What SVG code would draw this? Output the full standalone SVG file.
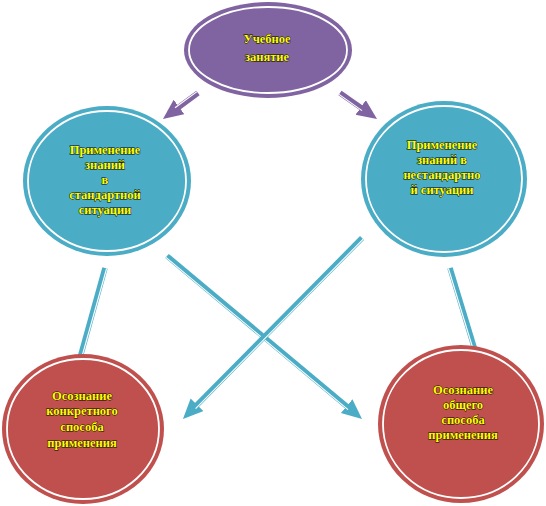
<svg xmlns="http://www.w3.org/2000/svg" width="546" height="506" viewBox="0 0 546 506">
<style>
.t{font-family:"Liberation Serif","Times New Roman",serif;font-weight:bold;font-size:12.5px;fill:#ffff00;stroke:#000;stroke-width:0.8px;paint-order:stroke;text-anchor:middle}
.ring{fill:none;stroke:#fff;stroke-width:1.8}
.pl{stroke:#8064a2;stroke-width:5.5;fill:none}
.bl{stroke:#4bacc6;stroke-width:5.5;fill:none}
.wl{stroke:#fff;stroke-width:1.1;fill:none}
</style>
<defs>
<marker id="hp" markerUnits="userSpaceOnUse" markerWidth="22" markerHeight="20" refX="8" refY="9" orient="auto"><path d="M0,0 L20,9 L0,18 Z" fill="#8064a2"/></marker>
<marker id="hb" markerUnits="userSpaceOnUse" markerWidth="22" markerHeight="20" refX="8" refY="9" orient="auto"><path d="M0,0 L20,9 L0,18 Z" fill="#4bacc6"/></marker>
</defs>
<g id="connectors">
<line class="pl" x1="198" y1="93" x2="172.6" y2="111.8" marker-end="url(#hp)"/>
<line class="wl" x1="197" y1="91.6" x2="175" y2="107.8"/>
<line class="pl" x1="340" y1="93" x2="367.2" y2="112.1" marker-end="url(#hp)"/>
<line class="wl" x1="339" y1="94.4" x2="362" y2="110.6"/>
<line class="bl" x1="167" y1="256" x2="352.8" y2="411.3" marker-end="url(#hb)"/>
<line class="wl" x1="165.9" y1="257.3" x2="348" y2="409.6"/>
<line class="bl" x1="362" y1="238" x2="191.4" y2="410.5" marker-end="url(#hb)"/>
<line class="wl" x1="363.2" y1="239.2" x2="195.6" y2="408.6"/>
<line class="bl" x1="105" y1="268" x2="78" y2="365"/>
<line class="wl" x1="106.6" y1="268.5" x2="79.6" y2="365"/>
<line class="bl" x1="450" y1="268" x2="478" y2="360"/>
<line class="wl" x1="448.4" y1="268.5" x2="476.4" y2="360"/>
</g>
<g id="n1">
<ellipse cx="268" cy="50" rx="84" ry="48" fill="#8064a2"/>
<ellipse class="ring" cx="268" cy="50" rx="79" ry="43"/>
<text class="t" x="267" y="43">Учебное</text>
<text class="t" x="267" y="61">занятие</text>
</g>
<g id="n2">
<ellipse cx="107" cy="181" rx="84" ry="75" fill="#4bacc6"/>
<ellipse class="ring" cx="107" cy="181" rx="79" ry="70"/>
<text class="t" x="105" y="154">Применение</text>
<text class="t" x="105" y="169">знаний</text>
<text class="t" x="105" y="184">в</text>
<text class="t" x="105" y="199">стандартной</text>
<text class="t" x="105" y="214">ситуации</text>
</g>
<g id="n3">
<ellipse cx="444" cy="179" rx="83" ry="78" fill="#4bacc6"/>
<ellipse class="ring" cx="444" cy="179" rx="78" ry="73"/>
<text class="t" x="442" y="149">Применение</text>
<text class="t" x="442" y="164">знаний  в</text>
<text class="t" x="442" y="179">нестандартно</text>
<text class="t" x="442" y="194">й  ситуации</text>
</g>
<g id="n4">
<ellipse cx="83" cy="429" rx="81" ry="75" fill="#c0504d"/>
<ellipse class="ring" cx="83" cy="429" rx="76" ry="70"/>
<text class="t" x="82" y="400">Осознание</text>
<text class="t" x="82" y="415">конкретного</text>
<text class="t" x="82" y="431">способа</text>
<text class="t" x="82" y="447">применения</text>
</g>
<g id="n5">
<ellipse cx="461" cy="424" rx="83" ry="79" fill="#c0504d"/>
<ellipse class="ring" cx="461" cy="424" rx="78" ry="74"/>
<text class="t" x="463" y="394">Осознание</text>
<text class="t" x="463" y="409">общего</text>
<text class="t" x="463" y="424">способа</text>
<text class="t" x="463" y="439">применения</text>
</g>
</svg>
